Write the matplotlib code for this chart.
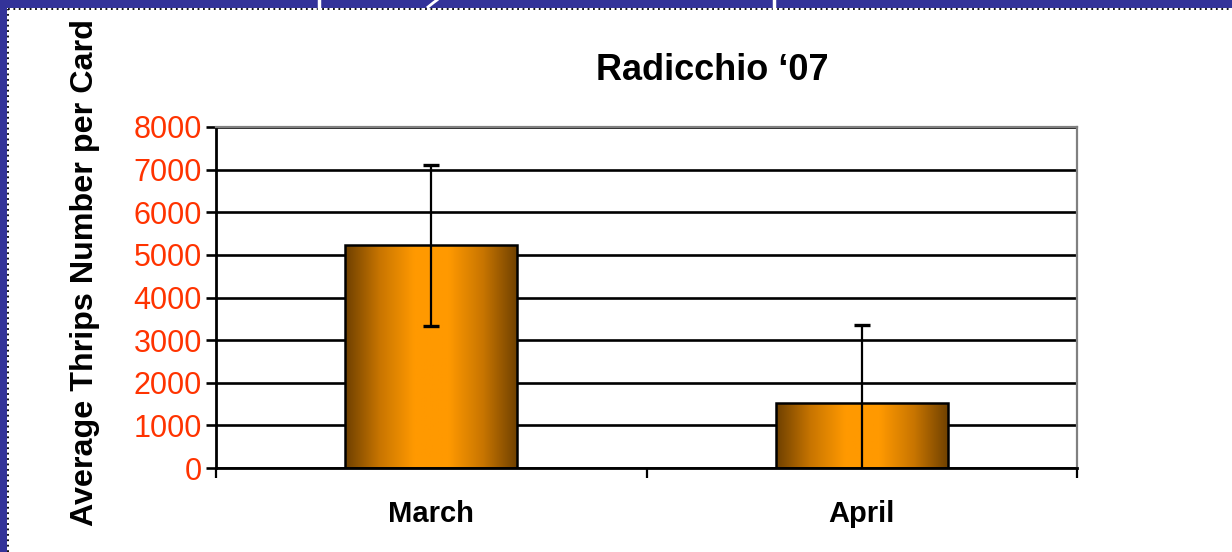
import numpy as np
import matplotlib
matplotlib.use('Agg')
import matplotlib.pyplot as plt
from matplotlib.patches import Rectangle
from matplotlib.lines import Line2D
from matplotlib.colors import LinearSegmentedColormap

plt.rcParams['font.family'] = ['Liberation Sans', 'DejaVu Sans']

# Chart data
months = ['March', 'April']
mean_thrips = [5220, 1520]
err_thrips = [1880, 1830]
y_ticks = [0, 1000, 2000, 3000, 4000, 5000, 6000, 7000, 8000]

W, H = 1232, 552
fig = plt.figure(figsize=(W / 100, H / 100), dpi=100)
fig.patch.set_facecolor('white')

ax = fig.add_axes([216 / W, 1 - 468 / H, (1077 - 216) / W, (468 - 127) / H])

x = np.arange(len(months))
bars = ax.bar(x, mean_thrips, width=0.4, color='none', edgecolor='black', linewidth=1.8, zorder=3)

# horizontal gradient fill: dark brown at edges, bright orange in the middle
cmap = LinearSegmentedColormap.from_list('bar_grad', ['#6e4000', '#c87500', '#ff9900', '#ff9900', '#c87500', '#6e4000'])
grad = np.linspace(0, 1, 256).reshape(1, -1)
for b in bars:
    im = ax.imshow(grad, cmap=cmap, aspect='auto', zorder=2,
                   extent=[b.get_x(), b.get_x() + b.get_width(), 0, b.get_height()])
    im.set_clip_path(b)

ax.errorbar(x, mean_thrips, yerr=err_thrips, fmt='none', ecolor='black',
            elinewidth=1.6, capsize=5.5, capthick=2.4, zorder=4)

ax.set_xlim(-0.5, 1.5)
ax.set_ylim(0, 8000)
ax.set_yticks(y_ticks)
ax.set_yticklabels([str(v) for v in y_ticks], color='#ff3300', fontsize=22)
ax.yaxis.grid(True, color='black', linewidth=1.9)
ax.set_axisbelow(True)

ax.set_xticks(x)
ax.set_xticklabels(months, fontsize=21, fontweight='bold')
ax.set_xticks([-0.5, 0.5, 1.5], minor=True)
ax.tick_params(axis='x', which='major', length=0, pad=23)
ax.tick_params(axis='x', which='minor', length=7, width=1.6, direction='out')
ax.tick_params(axis='y', length=7, width=1.9, direction='out', pad=3)

for side in ['top', 'right']:
    ax.spines[side].set_color('#808080')
    ax.spines[side].set_linewidth(1.6)
for side in ['left', 'bottom']:
    ax.spines[side].set_color('black')
    ax.spines[side].set_linewidth(2.0)

fig.text(712 / W, 1 - 70 / H, 'Radicchio \u201807', ha='center', va='center',
         fontsize=26, fontweight='bold')
fig.text(85 / W, 1 - 272 / H, 'Average Thrips Number per Card', ha='center', va='center',
         rotation=90, fontsize=23.2, fontweight='bold')

# slide frame: blue band on top and left with dotted edge
blue = '#333399'
fig.patches.append(Rectangle((0, 1 - 8 / H), 1, 8 / H, transform=fig.transFigure,
                             facecolor=blue, edgecolor='none'))
fig.patches.append(Rectangle((0, 0), 7 / W, 1, transform=fig.transFigure,
                             facecolor=blue, edgecolor='none'))
fig.add_artist(Line2D([7.5 / W, 1], [1 - 9 / H, 1 - 9 / H], transform=fig.transFigure,
                      color='black', linewidth=1.3, linestyle=(0, (1, 2))))
fig.add_artist(Line2D([8 / W, 8 / W], [0, 1 - 9 / H], transform=fig.transFigure,
                      color='black', linewidth=1.3, linestyle=(0, (1, 2))))
# bits of the cut-off slide title
for px in [319, 774]:
    fig.add_artist(Line2D([px / W, px / W], [1 - 9 / H, 1], transform=fig.transFigure,
                          color='white', linewidth=2.5))
fig.add_artist(Line2D([428 / W, 433 / W, 437 / W], [1 - 7 / H, 1 - 3 / H, 1], transform=fig.transFigure,
                      color='white', linewidth=2))

fig.savefig('out.png', dpi=100)
